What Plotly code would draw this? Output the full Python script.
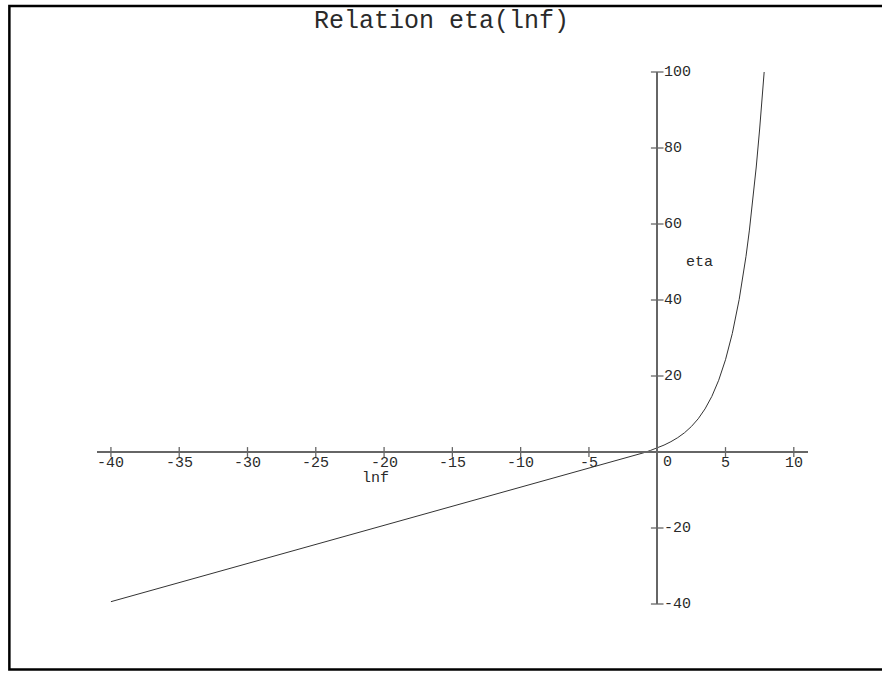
import plotly.graph_objects as go

# Values
lnf = [-40, -35, -30, -25, -20, -15, -10, -7, -5, -4, -3, -2, -1.5, -1, -0.5,
       0, 0.5, 1, 1.5, 2, 2.5, 3, 3.5, 4, 4.5, 5, 5.5, 6, 6.25, 6.5, 6.75,
       7, 7.25, 7.5, 7.65, 7.83]
eta = [-39.39, -34.39, -29.39, -24.39, -19.39, -14.39, -9.39, -6.39, -4.39,
       -3.38, -2.36, -1.32, -0.78, -0.21, 0.40,
       1.07, 1.82, 2.71, 3.77, 5.07, 6.70, 8.74, 11.34, 14.64, 18.87, 24.28,
       31.22, 40.12, 45.5, 51.5, 58.4, 66.2, 75.0, 85.0, 91.6, 100.0]

x_ticks = [-40, -35, -30, -25, -20, -15, -10, -5, 5, 10]
x_ticktext = ["-40", "-35", "-30", "-25", "-20", "-15", "-10", "-5", "5", "10"]
y_ticks = [-40, -20, 20, 40, 60, 80, 100]
y_ticktext = ["-40", "-20", "20", "40", "60", "80", "100"]

title_text = "Relation eta(lnf)"
x_label = "lnf"
y_label = "eta"
origin_label = "0"

W, H = 882, 673
XR = [-41.02, 11.04]
YR = [-40, 100]
L, R, T, B = 96.7, 73.7, 71.7, 68.5
pw = W - L - R
ph = H - T - B

FONT = "Liberation Mono, Courier New, monospace"
AX = "#666666"
TXT = "#2a2a2a"
FS = 15

def px_to_paper_x(px):
    return (px - L) / pw

def py_to_paper_y(py):
    return (H - B - py) / ph

fig = go.Figure()
fig.add_trace(go.Scatter(x=lnf, y=eta, mode="lines",
                         line=dict(color="#333333", width=1),
                         hoverinfo="skip", showlegend=False, cliponaxis=False))

# tick marks crossing the axes
fig.add_trace(go.Scatter(x=x_ticks, y=[0] * len(x_ticks), mode="markers",
                         marker=dict(symbol="line-ns-open", size=7, color=AX,
                                     line=dict(color=AX, width=1.3)),
                         hoverinfo="skip", showlegend=False, cliponaxis=False))
fig.add_trace(go.Scatter(x=[0] * len(y_ticks), y=y_ticks, mode="markers",
                         marker=dict(symbol="line-ew-open", size=9, color=AX,
                                     line=dict(color=AX, width=1.3)),
                         hoverinfo="skip", showlegend=False, cliponaxis=False))

fig.update_layout(
    width=W, height=H,
    margin=dict(l=L, r=R, t=T, b=B, pad=0),
    paper_bgcolor="white", plot_bgcolor="white",
    font=dict(family=FONT, size=FS, color=TXT),
    showlegend=False,
    title=dict(text=title_text, x=441.5 / W, xanchor="center",
               y=1 - 19 / H, yanchor="middle",
               font=dict(family=FONT, size=25, color=TXT)),
    xaxis=dict(range=XR, showgrid=False, zeroline=False,
               showline=True, linecolor=AX, linewidth=1.6,
               anchor="free", position=(0 - YR[0]) / (YR[1] - YR[0]),
               ticks="", showticklabels=False),
    yaxis=dict(range=YR, showgrid=False, zeroline=False,
               showline=True, linecolor=AX, linewidth=1.6,
               anchor="free", position=(0 - XR[0]) / (XR[1] - XR[0]),
               ticks="", showticklabels=False),
)

for v, t in zip(x_ticks, x_ticktext):
    fig.add_annotation(x=v, y=0, xref="x", yref="y", text=t, showarrow=False,
                       yanchor="middle", yshift=-11,
                       font=dict(family=FONT, size=FS, color=TXT))
for v, t in zip(y_ticks, y_ticktext):
    fig.add_annotation(x=0, y=v, xref="x", yref="y", text=t, showarrow=False,
                       xanchor="left", xshift=5,
                       font=dict(family=FONT, size=FS, color=TXT))

fig.add_annotation(x=3.12, y=49.8, xref="x", yref="y", text=y_label,
                   showarrow=False, font=dict(family=FONT, size=FS, color=TXT))
fig.add_annotation(x=-20.6, y=-6.9, xref="x", yref="y", text=x_label,
                   showarrow=False, font=dict(family=FONT, size=FS, color=TXT))
fig.add_annotation(x=0.78, y=-2.8, xref="x", yref="y", text=origin_label,
                   showarrow=False, font=dict(family=FONT, size=FS, color=TXT))

# outer frame
fig.add_shape(type="rect", xref="paper", yref="paper",
              x0=px_to_paper_x(9), x1=px_to_paper_x(900),
              y0=py_to_paper_y(670), y1=py_to_paper_y(5.5),
              line=dict(color="black", width=2.5), fillcolor="rgba(0,0,0,0)",
              layer="above")

fig.write_html("out.html", config={"displayModeBar": False},
               post_script="document.body.style.margin='0';")
